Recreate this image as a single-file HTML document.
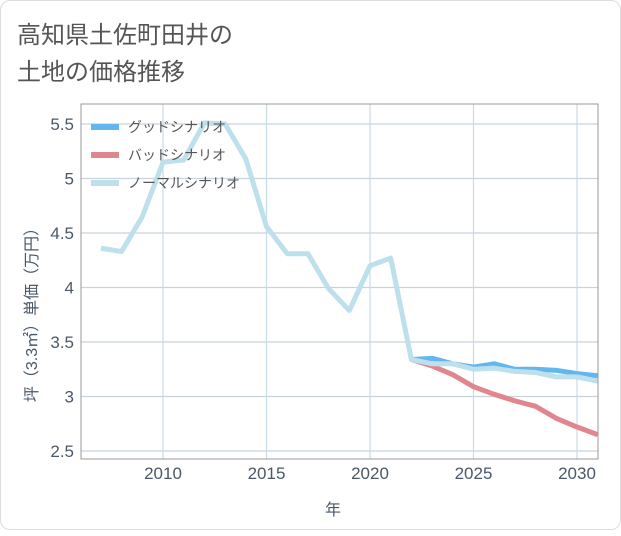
<!DOCTYPE html>
<html><head><meta charset="utf-8"><style>
body{margin:0;background:#fff;font-family:"Liberation Sans","Noto Sans CJK JP",sans-serif}
#card{position:absolute;left:0;top:0;width:619px;height:528px;border:1px solid #ddd;border-radius:10px;background:#fff}
</style></head><body>
<div id="card">
<svg id="chart" width="621" height="530">
<text x="16" y="42" font-size="24" fill="#555">高知県土佐町田井の</text>
<text x="16" y="79" font-size="24" fill="#555">土地の価格推移</text>
<g id="grid"></g><g id="series"></g><g id="axes"></g>
<rect x="80" y="103" width="517" height="355" fill="none" stroke="#999"/>
<text x="332" y="514" font-size="16" fill="#4a5868" text-anchor="middle">年</text>
<text transform="translate(36,310) rotate(-90)" font-size="16" fill="#4a5868" text-anchor="middle">坪（3.3㎡）単価（万円）</text>
<g>
<line x1="90" y1="126" x2="118" y2="126" stroke="#63b6ee" stroke-width="6"/>
<text x="127" y="131" font-size="14" fill="#555">グッドシナリオ</text>
<line x1="90" y1="154" x2="118" y2="154" stroke="#e0868e" stroke-width="6"/>
<text x="127" y="159" font-size="14" fill="#555">バッドシナリオ</text>
<line x1="90" y1="182" x2="118" y2="182" stroke="#bde0ec" stroke-width="6"/>
<text x="127" y="187" font-size="14" fill="#555">ノーマルシナリオ</text>
</g>
</svg></div>
<script>
const years=[2007,2008,2009,2010,2011,2012,2013,2014,2015,2016,2017,2018,2019,2020,2021,2022,2023,2024,2025,2026,2027,2028,2029,2030,2031];
const normalValues=[4.36,4.33,4.65,5.15,5.17,5.51,5.50,5.18,4.56,4.31,4.31,3.99,3.79,4.20,4.27,3.34,3.30,3.30,3.25,3.26,3.23,3.22,3.18,3.18,3.14];
const futureYears=[2022,2023,2024,2025,2026,2027,2028,2029,2030,2031];
const goodValues=[3.34,3.35,3.30,3.27,3.30,3.25,3.25,3.24,3.21,3.19];
const badValues=[3.34,3.28,3.20,3.09,3.02,2.96,2.91,2.80,2.72,2.65];
const xTicks=[2010,2015,2020,2025,2030];
const yTicks=[2.5,3,3.5,4,4.5,5,5.5];
const NS="http://www.w3.org/2000/svg";
const X=y=>162+(y-2010)*20.7;
const Y=v=>450-(v-2.5)*109;
function mk(tag,attrs,parent){const e=document.createElementNS(NS,tag);for(const k in attrs)e.setAttribute(k,attrs[k]);document.getElementById(parent).appendChild(e);return e;}
yTicks.forEach(t=>{
 const l=mk('line',{x1:80,x2:597,y1:Y(t),y2:Y(t),stroke:'#c8d3de','stroke-width':1.2},'grid');
 
 
 const tx=mk('text',{x:73,y:Y(t)+6,'font-size':17,fill:'#4a5868','text-anchor':'end'},'axes');
 tx.textContent=t;
 
 
});
xTicks.forEach(t=>{
 const l=mk('line',{x1:X(t),x2:X(t),y1:103,y2:458,stroke:'#c8dce6','stroke-width':1.2},'grid');
 
 
 const tx=mk('text',{x:X(t),y:478,'font-size':17,fill:'#4a5868','text-anchor':'middle'},'axes');
 tx.textContent=t;
 
 
});
function line(xs,vs,color,name){
 const p=mk('polyline',{points:xs.map((y,i)=>X(y)+','+Y(vs[i])).join(' '),fill:'none',stroke:color,'stroke-width':5,'stroke-linejoin':'round'},'series');
 
 
}
line(futureYears,goodValues,'#63b6ee','good-scenario-line');
line(futureYears,badValues,'#e0868e','bad-scenario-line');
line(years,normalValues,'#bde0ec','normal-scenario-line');
</script>
</body></html>
